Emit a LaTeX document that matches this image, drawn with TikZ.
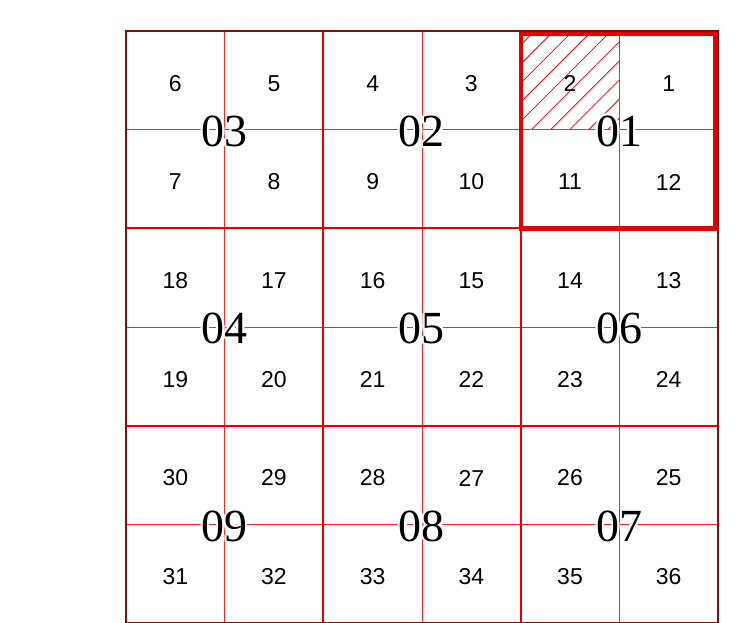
\documentclass[tikz,border=0pt]{standalone}
\usepackage{fontspec}
\setmainfont{Liberation Serif}
\setsansfont{Liberation Sans}
\usepackage{contour}
\contourlength{2.2pt}
\usetikzlibrary{patterns.meta}
\definecolor{GridRed}{HTML}{E60000}
\definecolor{ThinRed}{HTML}{FF2424}
\definecolor{FrameRed}{HTML}{8B0A0A}
\tikzset{
  smallnum/.style={font=\sffamily\fontsize{23}{23}\selectfont,text=black,inner sep=0pt},
  blocknum/.style={font=\fontsize{46}{46}\selectfont,text=black,inner sep=0pt},
  thinline/.style={ThinRed,line width=1pt},
  blockline/.style={GridRed,line width=2.2pt},
  markedbox/.style={GridRed,line width=4.5pt},
  frameline/.style={FrameRed,line width=2.5pt},
}

\begin{document}
\begin{tikzpicture}[x=1pt,y=-1pt]
\useasboundingbox (0,0) rectangle (740,623);

% hatched sub-cell of block 01
\fill[pattern={Lines[angle=45,distance=13.5pt,line width=0.8pt]},pattern color=red]
  (520.33,31) rectangle (619,129.67);

% sub-cell lines
\foreach \k in {1,3,5} {
  \draw[thinline] ({126+98.667*\k},31) -- ({126+98.667*\k},623);
  \draw[thinline] (126,{31+98.667*\k}) -- (718,{31+98.667*\k});
}
% block lines
\foreach \k in {2,4} {
  \draw[blockline] ({126+98.667*\k},31) -- ({126+98.667*\k},623);
  \draw[blockline] (126,{31+98.667*\k}) -- (718,{31+98.667*\k});
}

% block 01 outline
\draw[markedbox] (521,33.5) rectangle (715.5,228.5);

% outer frame
\draw[frameline] (126,31) rectangle (718,623);

% sub-cell numbers
\foreach \r in {0,...,5} {
  \foreach \c in {0,...,5} {
    \pgfmathtruncatemacro{\n}{mod(\r,2)==0 ? 6*\r+6-\c : 6*\r+\c+1}
    \node[smallnum] (n\n) at ({126+98.667*(\c+0.5)},{31+98.667*(\r+0.5)+3}) {\n};
  }
}

% block numbers
\foreach \r in {0,1,2} {
  \foreach \c in {0,1,2} {
    \pgfmathtruncatemacro{\b}{mod(\r,2)==0 ? 3*\r+3-\c : 3*\r+\c+1}
    \node[blocknum] (b\b) at ({126+197.33*(\c+0.5)},{31+197.33*(\r+0.5)+3}) {\contour{white}{0\b}};
  }
}
\end{tikzpicture}
\end{document}
